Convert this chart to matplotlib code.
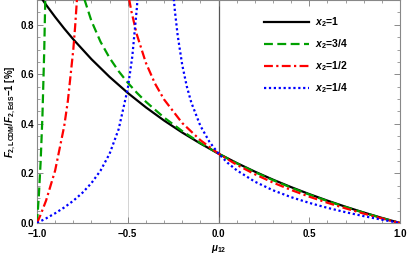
import matplotlib
matplotlib.use("Agg")
import matplotlib.pyplot as plt
from matplotlib.ticker import MultipleLocator

plt.rcParams['font.family'] = ['Liberation Sans', 'DejaVu Sans']
plt.rcParams['mathtext.fontset'] = 'custom'
plt.rcParams['mathtext.rm'] = 'Liberation Sans:bold'
plt.rcParams['mathtext.it'] = 'Liberation Sans:italic:bold'
plt.rcParams['mathtext.bf'] = 'Liberation Sans:bold'

# x2 = 1
mu_1 = [-1.0, -0.95, -0.9, -0.85, -0.8, -0.7, -0.6, -0.5, -0.4, -0.3, -0.2, -0.1, 0.0,
        0.1, 0.2, 0.3, 0.4, 0.5, 0.6, 0.7, 0.8, 0.9, 1.0]
val_1 = [0.9333, 0.8806, 0.8313, 0.7848, 0.7412, 0.6611, 0.5895, 0.525, 0.4667, 0.4136,
         0.3652, 0.3208, 0.28, 0.2423, 0.2074, 0.175, 0.1448, 0.1167, 0.0903, 0.0656,
         0.0424, 0.0206, 0.0]

# x2 = 3/4 (two branches around the pole)
mu_34a = [-1.0, -0.99, -0.98, -0.97, -0.96, -0.955, -0.95]
val_34a = [0.0, 0.1078, 0.2464, 0.4329, 0.7000, 0.8830, 1.118]
mu_34b = [-0.8, -0.77, -0.74, -0.7, -0.65, -0.6, -0.55, -0.5, -0.45, -0.4, -0.3, -0.2, -0.1,
          0.0, 0.1, 0.2, 0.3, 0.4, 0.5, 0.6, 0.7, 0.8, 0.9, 1.0]
val_34b = [1.1284, 0.9978, 0.9056, 0.8152, 0.7314, 0.6662, 0.6124, 0.5663, 0.5257, 0.4893,
           0.4257, 0.3711, 0.3230, 0.28, 0.2411, 0.2056, 0.1729, 0.1428, 0.1148, 0.0888,
           0.0644, 0.0416, 0.0202, 0.0]

# x2 = 1/2
mu_12a = [-1.0, -0.98, -0.95, -0.9, -0.85, -0.83, -0.8, -0.79, -0.78, -0.77]
val_12a = [0.0, 0.0335, 0.0906, 0.2120, 0.3914, 0.4923, 0.7000, 0.792, 0.9014, 1.033]
mu_12b = [-0.52, -0.5, -0.48, -0.45, -0.4, -0.35, -0.3, -0.2, -0.1, 0.0, 0.1, 0.2, 0.3,
          0.4, 0.5, 0.6, 0.7, 0.8, 0.9, 1.0]
val_12b = [1.031, 0.9333, 0.8546, 0.7608, 0.6462, 0.5629, 0.4986, 0.4036, 0.3344, 0.28,
           0.2351, 0.1968, 0.1632, 0.1333, 0.1063, 0.0817, 0.0590, 0.0380, 0.0184, 0.0]

# x2 = 1/4
mu_14a = [-1.0, -0.95, -0.9, -0.85, -0.8, -0.75, -0.7, -0.65, -0.6, -0.55, -0.5, -0.475,
          -0.45, -0.44, -0.425]
val_14a = [0.0, 0.0186, 0.0393, 0.0627, 0.0897, 0.1217, 0.1611, 0.2114, 0.2796, 0.3790,
           0.5419, 0.6716, 0.8663, 0.9751, 1.194]
mu_14b = [-0.27, -0.25, -0.24, -0.225, -0.2, -0.175, -0.15, -0.1, -0.05, 0.0, 0.05, 0.1,
          0.2, 0.3, 0.4, 0.5, 0.6, 0.7, 0.8, 0.9, 1.0]
val_14b = [1.149, 0.9333, 0.8538, 0.7576, 0.6385, 0.5521, 0.4864, 0.3924, 0.3277, 0.28,
           0.2429, 0.2130, 0.1669, 0.1321, 0.1043, 0.0812, 0.0612, 0.0436, 0.0277,
           0.0133, 0.0]

labels = [r'$x_2$=1', r'$x_2$=3/4', r'$x_2$=1/2', r'$x_2$=1/4']

fig = plt.figure(figsize=(4.07, 2.58), dpi=100)
ax = fig.add_axes([37/407, 35/258, 363/407, 223/258])

ax.axvline(-0.5, color='#cccccc', lw=0.6, zorder=1)
ax.axvline(0.0, color='#555555', lw=0.9, zorder=1)

green = '#00a000'
ax.plot(mu_1, val_1, color='black', lw=1.6, label=labels[0], zorder=3)
ax.plot(mu_34a, val_34a, color=green, lw=1.6, ls=(0, (4, 2)), zorder=3)
ax.plot(mu_34b, val_34b, color=green, lw=1.6, ls=(0, (4, 2)), label=labels[1], zorder=3)
ax.plot(mu_12a, val_12a, color='red', lw=1.6, ls=(0, (4, 1.5, 1, 1.5)), zorder=3)
ax.plot(mu_12b, val_12b, color='red', lw=1.6, ls=(0, (4, 1.5, 1, 1.5)), label=labels[2], zorder=3)
ax.plot(mu_14a, val_14a, color='blue', lw=1.6, ls=(0, (1, 1.2)), zorder=3)
ax.plot(mu_14b, val_14b, color='blue', lw=1.6, ls=(0, (1, 1.2)), label=labels[3], zorder=3)

ax.set_xlim(-1, 1)
ax.set_ylim(0, 0.9)
ax.xaxis.set_major_locator(MultipleLocator(0.5))
ax.xaxis.set_minor_locator(MultipleLocator(0.1))
ax.yaxis.set_major_locator(MultipleLocator(0.2))
ax.yaxis.set_minor_locator(MultipleLocator(0.05))
ax.xaxis.set_major_formatter(plt.FuncFormatter(lambda v, p: f'{v:.1f}'.replace('-', '\u2212')))
ax.yaxis.set_major_formatter(plt.FuncFormatter(lambda v, p: f'{v:.1f}'))
ax.tick_params(which='both', direction='in', top=True, right=True, color='#777777',
               labelsize=7)
ax.tick_params(axis='x', which='major', pad=4)
ax.tick_params(axis='y', which='major', pad=2)
ax.tick_params(which='major', length=4, width=0.6)
ax.tick_params(which='minor', length=2, width=0.5)
for lab in ax.get_xticklabels() + ax.get_yticklabels():
    lab.set_fontweight('bold')
for sp in ax.spines.values():
    sp.set_color('#888888')
    sp.set_linewidth(0.8)

ax.set_xlabel(r'$\mu_{12}$', fontsize=7, labelpad=3)
ax.set_ylabel(r'$F_{2,\mathrm{LCDM}}/F_{2,\mathrm{EdS}}$$-$1 [%]', fontsize=7, labelpad=2,
              fontweight='bold')

leg = ax.legend(loc='upper right', bbox_to_anchor=(0.875, 0.96), frameon=False,
                handlelength=4.3, labelspacing=0.8, handletextpad=0.6,
                borderaxespad=0.2, prop={'weight': 'bold', 'size': 7.5})

fig.savefig('out.png', dpi=100)
